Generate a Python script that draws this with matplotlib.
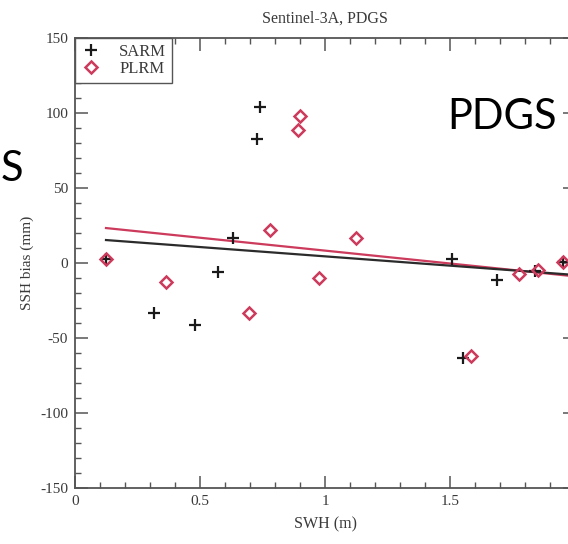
import numpy as np
import matplotlib
matplotlib.use("Agg")
import matplotlib.pyplot as plt
from matplotlib.ticker import MultipleLocator

plt.rcParams['axes.unicode_minus'] = False

# values
sarm_swh = [0.124, 0.316, 0.478, 0.572, 0.632, 0.728, 0.740, 1.508, 1.550, 1.688, 1.840, 1.952]
sarm_bias = [2.7, -33.0, -41.0, -6.0, 17.0, 83.0, 104.0, 3.0, -63.0, -11.0, -5.0, 1.0]

plrm_swh = [0.124, 0.364, 0.696, 0.780, 0.892, 0.900, 0.976, 1.124, 1.584, 1.776, 1.850, 1.952]
plrm_bias = [2.7, -12.7, -33.3, 22.0, 89.0, 98.0, -10.0, 16.7, -62.0, -7.0, -4.5, 0.7]

# fitted lines (end points)
fit_swh = [0.124, 1.97]
sarm_fit = [15.3, -7.6]
plrm_fit = [23.3, -8.4]

xticks = [0, 0.5, 1, 1.5, 2]
xticklabels = ['0', '0.5', '1', '1.5', '']   # the "2" falls off the cropped edge
yticks = [-150, -100, -50, 0, 50, 100, 150]

RED = '#cc3a5c'
TXT = '#3a3a3a'
SERIF = ['Liberation Serif', 'DejaVu Serif']

fig = plt.figure(figsize=(5.68, 5.44), dpi=100)
fig.patch.set_facecolor('white')
ax = fig.add_axes([75 / 568, 56 / 544, 500 / 568, 450 / 544])

ax.plot(fit_swh, plrm_fit, color=RED, lw=1.6, zorder=2)
ax.plot(fit_swh, sarm_fit, color='#2b2b2b', lw=1.6, zorder=2)
ax.plot(sarm_swh, sarm_bias, linestyle='none', marker='+', ms=9, mew=1.6,
        color='#1a1a1a', label='SARM', zorder=3)
ax.plot(plrm_swh, plrm_bias, linestyle='none', marker='D', ms=6, mew=1.8,
        mfc='none', mec=RED, label='PLRM', zorder=3)

ax.set_xlim(0, 2)
ax.set_ylim(-150, 150)
ax.set_xticks(xticks)
ax.set_xticklabels(xticklabels)
ax.set_yticks(yticks)
ax.xaxis.set_minor_locator(MultipleLocator(0.1))
ax.yaxis.set_minor_locator(MultipleLocator(10))
ax.tick_params(which='major', direction='in', top=True, right=True, length=9,
               width=1.1, color='#555555', labelsize=11, labelcolor=TXT, pad=5)
ax.tick_params(which='minor', direction='in', top=True, right=True, length=4.5,
               width=1.0, color='#555555')
for lab in ax.get_xticklabels() + ax.get_yticklabels():
    lab.set_family(SERIF)
for sp in ax.spines.values():
    sp.set_color('#555555')
    sp.set_linewidth(1.3)

ax.set_xlabel('SWH (m)', family=SERIF, fontsize=11.5, color=TXT, labelpad=6)
ax.set_ylabel('SSH bias (mm)', family=SERIF, fontsize=11, color=TXT, labelpad=4)
ax.set_title('Sentinel-3A, PDGS', family=SERIF, fontsize=11.5, color=TXT, pad=11)

leg = ax.legend(loc='upper left', borderaxespad=0.0, fancybox=False,
                edgecolor='#555555', framealpha=1, handlelength=1.2,
                handletextpad=1.1, borderpad=0.35, labelspacing=0.05,
                prop={'family': SERIF, 'size': 12})
for t in leg.get_texts():
    t.set_color(TXT)

# slide text around the chart
fig.text(447 / 568, 1 - 129 / 544, 'PDGS', family=['Lato', 'DejaVu Sans'],
         fontsize=30, color='black', ha='left', va='baseline')
fig.text(0.5 / 568, 1 - 181 / 544, 'S', family=['Lato', 'DejaVu Sans'],
         fontsize=30, color='black', ha='left', va='baseline')

fig.savefig('out.png', dpi=100)
